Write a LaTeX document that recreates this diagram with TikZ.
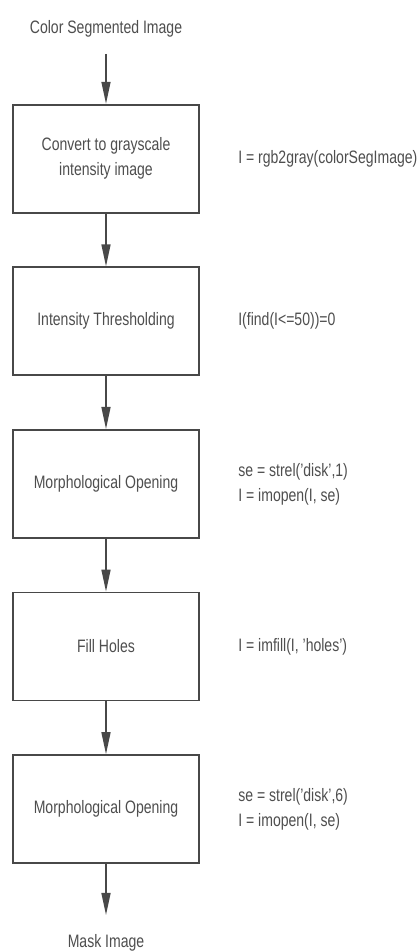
\documentclass[tikz,border=0pt]{standalone}
\usepackage{fontspec}
\setmainfont[FakeStretch=0.78]{Liberation Sans}
\usetikzlibrary{%
	arrows.meta,%
	positioning,%
}
\definecolor{cline}{RGB}{72, 72, 72}
\definecolor{ctext}{RGB}{78, 78, 78}
\tikzset{
	>={Triangle[length=11pt, width=4.5pt]},%
	nodes={align=center},%
	procbox/.style={%
			draw=cline,%
			rectangle,%
			line width=0.9pt,%
			minimum width=93pt,%
			minimum height=54pt,%
			inner sep=0pt},%
	ionode/.style={%
			inner sep=0pt},%
	codenode/.style={%
			align=left,%
			inner sep=0pt,%
			anchor=west},%
	flow/.style={%
			->,%
			draw=cline,%
			line width=0.75pt},%
}

\begin{document}
\begin{tikzpicture}[nodes={font={\fontsize{9}{12.5}\selectfont}, text=ctext}]%
	\useasboundingbox (-53pt,14.5pt) rectangle (155.5pt,-461pt);

	\node[ionode] (src) {Color Segmented Image};

	\node[procbox, below=33pt of src] (gray) {Convert to grayscale\\intensity image};
	\node[procbox, below=26.4pt of gray] (thresh) {Intensity Thresholding};
	\node[procbox, below=26.4pt of thresh] (openA) {Morphological Opening};
	\node[procbox, below=26.4pt of openA] (fill) {Fill Holes};
	\node[procbox, below=26.4pt of fill] (openB) {Morphological Opening};

	\node[ionode, below=35pt of openB] (mask) {Mask Image};

	\node[codenode, right=19pt of gray] (graycode) {I = rgb2gray(colorSegImage)};
	\node[codenode, right=19pt of thresh] (threshcode) {I(find(I<=50))=0};
	\node[codenode, right=19pt of openA] (openAcode) {se = strel('disk',1)\\I = imopen(I, se)};
	\node[codenode, right=19pt of fill] (fillcode) {I = imfill(I, 'holes')};
	\node[codenode, right=19pt of openB] (openBcode) {se = strel('disk',6)\\I = imopen(I, se)};

	\draw[flow, shorten <=8pt] (src) -- (gray);
	\draw[flow] (gray) -- (thresh);
	\draw[flow] (thresh) -- (openA);
	\draw[flow] (openA) -- (fill);
	\draw[flow] (fill) -- (openB);
	\draw[flow, shorten >=9.5pt] (openB) -- (mask);
\end{tikzpicture}
\end{document}
